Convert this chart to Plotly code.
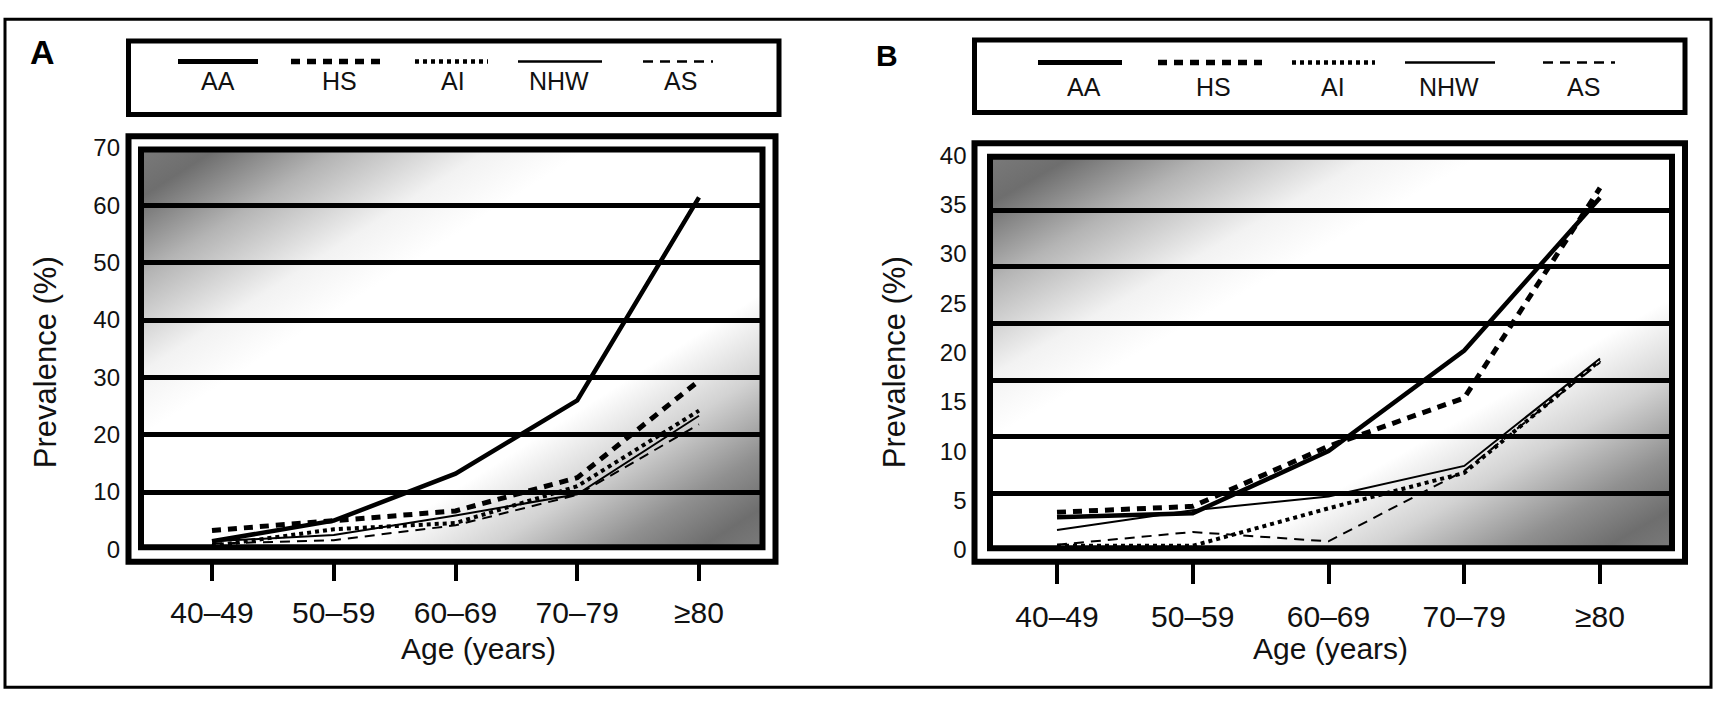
import base64
import plotly.graph_objects as go

W, H = 1715, 707

# ---------------- data ----------------
age_groups = ["40–49", "50–59", "60–69", "70–79", "≥80"]
groups = ["AA", "HS", "AI", "NHW", "AS"]

# Panel A prevalence (%)
a_AA = [1.4, 5.0, 13.2, 26.0, 61.4]
a_HS = [3.3, 5.0, 6.7, 12.5, 29.4]
a_AI = [0.6, 3.5, 4.6, 11.0, 24.2]
a_NHW = [1.4, 2.5, 5.9, 9.6, 23.3]
a_AS = [1.0, 1.6, 4.2, 9.5, 21.8]

# Panel B prevalence (%)
b_AA = [3.3, 3.7, 10.0, 20.2, 35.7]
b_HS = [3.8, 4.4, 10.5, 15.4, 36.7]
b_AI = [0.4, 0.4, 4.2, 7.8, 19.2]
b_NHW = [2.0, 4.0, 5.4, 8.5, 19.4]
b_AS = [0.5, 1.8, 0.85, 8.0, 19.0]

y_ticks_a = [0, 10, 20, 30, 40, 50, 60, 70]
y_ticks_b = [0, 5, 10, 15, 20, 25, 30, 35, 40]

panel_a = dict(zip(groups, [a_AA, a_HS, a_AI, a_NHW, a_AS]))
panel_b = dict(zip(groups, [b_AA, b_HS, b_AI, b_NHW, b_AS]))

# ---------------- styles ----------------
FONT = "Liberation Sans, Arial, Helvetica, sans-serif"
INK = "#111111"
styles = {
    "AA": dict(width=4.5, dash="solid"),
    "HS": dict(width=5, dash="9px,7px"),
    "AI": dict(width=4, dash="4px,4px"),
    "NHW": dict(width=2, dash="solid"),
    "AS": dict(width=2, dash="10px,7px"),
}


def fx(px):
    return px / W


def fy(py):
    return 1 - py / H


fig = go.Figure()

for g in groups:
    fig.add_trace(go.Scatter(x=age_groups, y=panel_a[g], mode="lines", name=g,
                             line=dict(color="black", **styles[g]),
                             xaxis="x", yaxis="y", showlegend=False))
for g in groups:
    fig.add_trace(go.Scatter(x=age_groups, y=panel_b[g], mode="lines", name=g,
                             line=dict(color="black", **styles[g]),
                             xaxis="x2", yaxis="y2", showlegend=False))

# ---------------- geometry (pixels) ----------------
A = dict(leg=(128.5, 28, 779, 104.5), outer=(128.5, 127, 775.5, 569.5),
         inner=(141, 141, 762.5, 554.5), ytop=139.4, ybot=556.6,
         xfirst=212, xlast=699, tick_base=570, ticklen=18, xlab_standoff=6,
         ylab_pos=128, letter=(42, 40, "A", 34),
         leg_lines=[(178, 258), (291, 387), (415, 488), (518, 602), (643, 713)],
         leg_line_y=49.5, leg_lab_x=[218, 339, 453, 559, 680], leg_lab_y=70,
         ytitle=(45, 362), xtitle=(478, 660))
B = dict(leg=(974.5, 27, 1685, 102.5), outer=(974.5, 134.5, 1685, 569.5),
         inner=(990, 148.5, 1672, 555.5), ytop=147, ybot=557,
         xfirst=1057, xlast=1600, tick_base=570, ticklen=21, xlab_standoff=7,
         ylab_pos=974.5, letter=(887, 43, "B", 30),
         leg_lines=[(1038, 1122), (1158, 1262), (1292, 1375), (1405, 1495), (1543, 1615)],
         leg_line_y=50.5, leg_lab_x=[1084, 1213, 1333, 1449, 1583], leg_lab_y=76,
         ytitle=(894, 362), xtitle=(1330, 660))


def xrange_for(P):
    step = (P["xlast"] - P["xfirst"]) / (len(age_groups) - 1)
    left, right = P["inner"][0], P["inner"][2]
    return [(left - P["xfirst"]) / step, (len(age_groups) - 1) + (right - P["xlast"]) / step]


axis_common = dict(showline=False, zeroline=False, color=INK)

fig.update_layout(
    xaxis=dict(type="category", domain=[fx(A["inner"][0]), fx(A["inner"][2])],
               range=xrange_for(A), anchor="free", position=fy(A["tick_base"]),
               ticks="outside", ticklen=A["ticklen"], tickwidth=4, tickcolor="black",
               showgrid=False, tickfont=dict(size=30, family=FONT, color=INK),
               ticklabelstandoff=A["xlab_standoff"], **axis_common),
    yaxis=dict(domain=[fy(A["ybot"]), fy(A["ytop"])], range=[0, 70],
               tickvals=y_ticks_a, anchor="free", position=fx(A["ylab_pos"]),
               ticks="", showgrid=True, gridcolor="black", gridwidth=5,
               tickfont=dict(size=24, family=FONT, color=INK),
               ticklabelstandoff=8, **axis_common),
    xaxis2=dict(type="category", domain=[fx(B["inner"][0]), fx(B["inner"][2])],
                range=xrange_for(B), anchor="free", position=fy(B["tick_base"]),
                ticks="outside", ticklen=B["ticklen"], tickwidth=4, tickcolor="black",
                showgrid=False, tickfont=dict(size=30, family=FONT, color=INK),
                ticklabelstandoff=B["xlab_standoff"], **axis_common),
    yaxis2=dict(domain=[fy(B["ybot"]), fy(B["ytop"])], range=[0, 40],
                tickvals=y_ticks_b, anchor="free", position=fx(B["ylab_pos"]),
                ticks="", showgrid=False,
                tickfont=dict(size=24, family=FONT, color=INK),
                ticklabelstandoff=8, **axis_common),
    # decorative background rules of panel B (not aligned with its tick values)
    yaxis3=dict(domain=[fy(B["ybot"]), fy(B["ytop"])], range=[0, 40],
                overlaying="y2", anchor="free", position=fx(B["inner"][0]),
                tickmode="linear", tick0=0, dtick=40 * 58.8 / (B["ybot"] - B["ytop"]),
                showticklabels=False, ticks="", showgrid=True, gridcolor="black",
                gridwidth=5, **axis_common),
)

# invisible trace so the decorative axis is rendered
fig.add_trace(go.Scatter(x=[age_groups[0]], y=[0], xaxis="x2", yaxis="y3",
                         mode="markers", marker=dict(opacity=0), hoverinfo="skip",
                         showlegend=False))

# ---------------- gradient backgrounds ----------------
stops = [(0.0, "#7a7a7a"), (0.06, "#6e6e6e"), (0.16, "#b4b4b4"), (0.28, "#f2f2f2"),
         (0.36, "#ffffff"), (0.68, "#ffffff"), (0.78, "#d2d2d2"), (0.88, "#909090"),
         (0.95, "#6e6e6e"), (1.0, "#7a7a7a")]
stop_xml = "".join(f'<stop offset="{o}" stop-color="{c}"/>' for o, c in stops)
svg = ('<svg xmlns="http://www.w3.org/2000/svg" width="400" height="300" '
       'viewBox="0 0 400 300" preserveAspectRatio="none"><defs>'
       '<linearGradient id="g" x1="0" y1="0" x2="1" y2="1">' + stop_xml +
       '</linearGradient></defs><rect x="0" y="0" width="400" height="300" fill="url(#g)"/></svg>')
src = "data:image/svg+xml;base64," + base64.b64encode(svg.encode()).decode()

images = []
for P in (A, B):
    l, t, r, b = P["inner"]
    images.append(dict(source=src, xref="paper", yref="paper", x=fx(l), y=fy(t),
                       sizex=fx(r) - fx(l), sizey=fy(t) - fy(b), xanchor="left",
                       yanchor="top", sizing="stretch", layer="below"))

# ---------------- frames, legends, labels ----------------
shapes = [dict(type="rect", xref="paper", yref="paper", x0=fx(5), y0=fy(5.5),
               x1=fx(1711), y1=fy(700), line=dict(color="black", width=3))]
annotations = []
for P in (A, B):
    for key, wdt in (("leg", 5), ("outer", 6), ("inner", 6)):
        l, t, r, b = P[key]
        shapes.append(dict(type="rect", xref="paper", yref="paper", x0=fx(l), y0=fy(t),
                           x1=fx(r), y1=fy(b), line=dict(color="black", width=wdt),
                           layer="above"))
    for g, (x0, x1), lx in zip(groups, P["leg_lines"], P["leg_lab_x"]):
        st = styles[g]
        shapes.append(dict(type="line", xref="paper", yref="paper",
                           x0=fx(x0), x1=fx(x1), y0=fy(P["leg_line_y"]), y1=fy(P["leg_line_y"]),
                           line=dict(color="black", width=st["width"] + 0.5, dash=st["dash"])))
        annotations.append(dict(text=g, xref="paper", yref="paper", x=fx(lx),
                                y=fy(P["leg_lab_y"]), showarrow=False,
                                xanchor="center", yanchor="middle",
                                font=dict(size=25, family=FONT, color=INK)))
    lx, ly, letter, size = P["letter"]
    annotations.append(dict(text=f"<b>{letter}</b>", xref="paper", yref="paper",
                            x=fx(lx), y=fy(ly), showarrow=False, xanchor="center",
                            yanchor="middle", font=dict(size=size, family=FONT, color="black")))
    tx, ty = P["ytitle"]
    annotations.append(dict(text="Prevalence (%)", xref="paper", yref="paper",
                            x=fx(tx), y=fy(ty), showarrow=False, textangle=-90,
                            xanchor="center", yanchor="middle",
                            font=dict(size=31, family=FONT, color=INK)))
    ax, ay = P["xtitle"]
    annotations.append(dict(text="Age (years)", xref="paper", yref="paper",
                            x=fx(ax), y=fy(ay), showarrow=False,
                            xanchor="center", yanchor="middle",
                            font=dict(size=30, family=FONT, color=INK)))

fig.update_layout(width=W, height=H, margin=dict(l=0, r=0, t=0, b=0),
                  paper_bgcolor="white", plot_bgcolor="rgba(0,0,0,0)",
                  images=images, shapes=shapes, annotations=annotations,
                  showlegend=False, font=dict(family=FONT, color=INK))

fig.write_html("out.html", config={"displayModeBar": False},
               post_script="document.body.style.margin='0px';document.body.style.padding='0px';")
